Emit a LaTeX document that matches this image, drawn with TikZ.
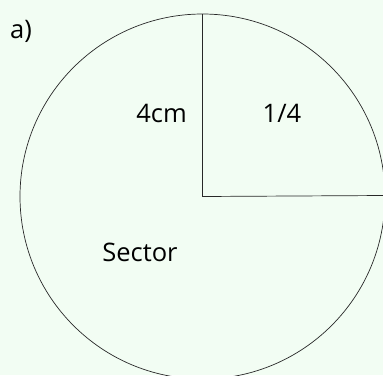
\documentclass[tikz,border=0pt]{standalone}
\usepackage{fontspec}
\setmainfont{Open Sans}
\definecolor{bgc}{RGB}{242,253,243}
\definecolor{ln}{RGB}{40,40,40}
\begin{document}
\begin{tikzpicture}[x=1pt,y=-1pt,
  lbl/.style={font=\fontsize{25.5}{28}\selectfont, inner sep=0pt, text=black},
  edge/.style={draw=ln, line width=0.7pt}]
\fill[bgc] (0,0) rectangle (383,375);
\useasboundingbox (0,0) rectangle (383,375);
\coordinate (c) at (202.5,196.5);
\coordinate (t) at (202.5,14);
\coordinate (r) at (384.5,195.5);
\begin{scope}
\clip (0,0) rectangle (383,375);
\draw[edge] (c) circle[radius=182.5];
\draw[edge] (t) -- (c) -- (r);
\end{scope}
\node[lbl] (a) at (21,31) {a)};
\node[lbl] (len) at (161.5,113) {4cm};
\node[lbl] (frac) at (282,113) {1/4};
\node[lbl] (sec) at (140,252) {Sector};
\end{tikzpicture}
\end{document}
